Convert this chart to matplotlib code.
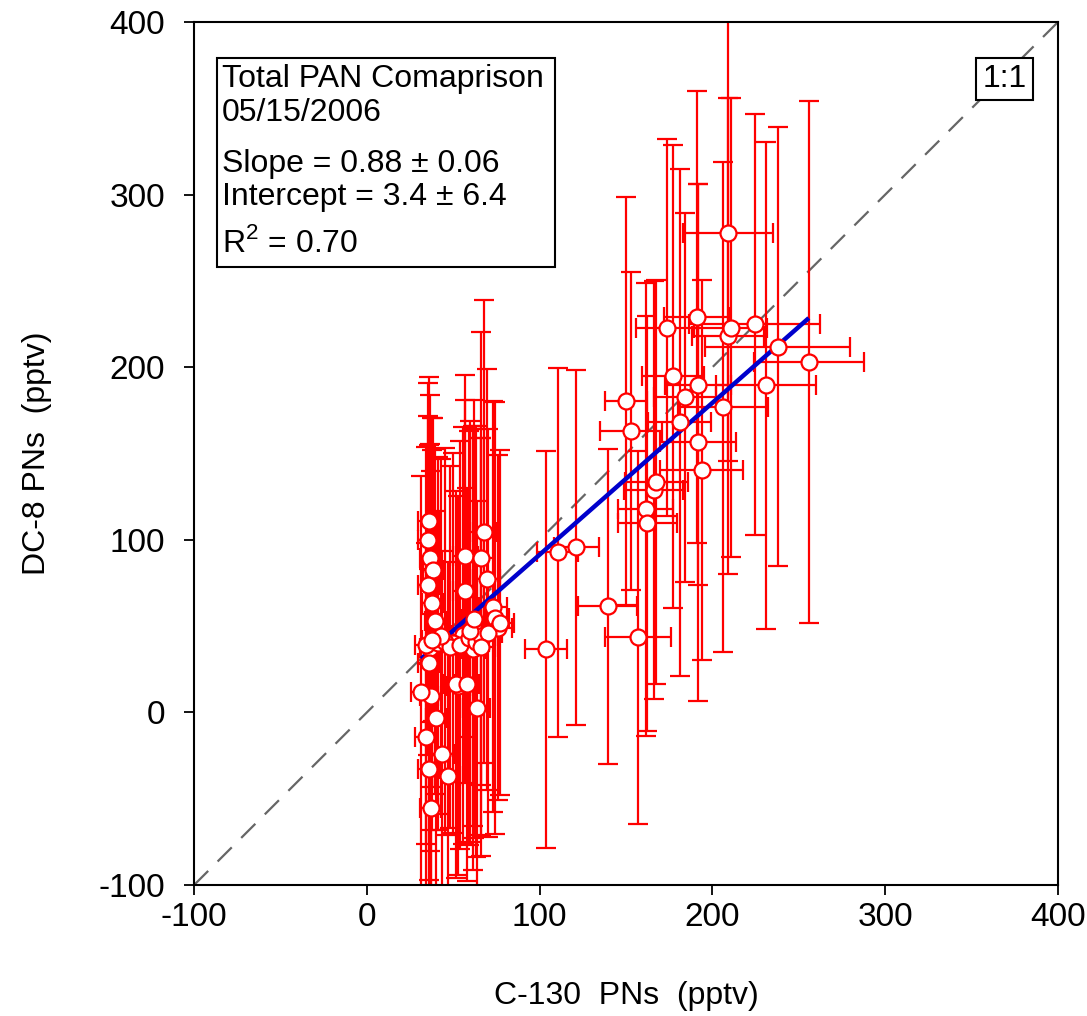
import matplotlib
matplotlib.use("Agg")
import matplotlib.pyplot as plt
from matplotlib.patches import Rectangle

plt.rcParams['font.family'] = ['Liberation Sans', 'DejaVu Sans']
plt.rcParams['axes.unicode_minus'] = False

# C-130 PNs (x), DC-8 PNs (y) with uncertainties (pptv)
c130 = [35.9, 35.5, 36.5, 38.4, 57.1, 35.5, 37.8, 56.7, 39.7, 67.6,
        65.8, 69.3, 73.0, 74.0, 76.0, 61.5, 55.7, 49.6, 36.5, 35.9,
        52.8, 37.0, 40.3, 34.0, 43.6, 35.9, 46.7, 37.0, 61.5, 51.9,
        57.7, 63.5, 41.0, 45.0, 48.0, 54.0, 59.0, 63.0, 66.0, 70.0,
        77.0, 43.0, 34.0, 38.0, 60.0, 66.0, 31.5, 62.0,
        103.6, 110.5, 121.3, 139.5, 156.8, 150.0, 153.0, 161.3, 162.4, 166.0,
        167.6, 173.6, 177.0, 181.0, 184.0, 191.0, 191.4, 191.5, 193.7, 206.0,
        209.0, 209.0, 210.5, 224.5, 231.0, 237.8, 255.8]
dc8 = [111.2, 99.7, 89.2, 82.8, 90.6, 73.6, 63.6, 70.3, 52.9, 104.7,
       89.2, 77.1, 61.2, 54.8, 49.0, 50.0, 44.6, 40.4, 37.5, 28.8,
       15.6, 9.8, -3.1, -14.0, -24.3, -33.0, -36.9, -55.2, 36.5, 16.2,
       16.2, 2.7, 40.0, 41.0, 38.0, 39.0, 43.0, 41.0, 44.0, 46.0,
       52.0, 44.0, 39.0, 42.0, 47.0, 38.0, 12.0, 54.0,
       36.5, 92.7, 95.6, 61.4, 43.5, 180.5, 163.0, 117.6, 109.5, 129.0,
       133.4, 223.0, 194.7, 168.0, 182.5, 229.0, 156.4, 190.0, 140.4, 177.0,
       277.5, 218.0, 223.0, 225.0, 189.5, 212.0, 203.0]
c130_err = [6, 6, 6, 6, 7, 6, 6, 7, 6, 8,
            8, 8, 8, 8, 8, 7, 7, 7, 6, 6,
            7, 6, 6, 6, 7, 6, 7, 6, 7, 7,
            7, 8, 6, 7, 7, 7, 7, 8, 8, 8,
            8, 7, 6, 6, 7, 8, 6, 7,
            12, 12, 13, 17, 19, 12, 18, 16, 17, 17,
            18, 18, 18, 18, 18, 19, 22, 19, 24, 26,
            26, 21, 21, 38, 29, 42, 32]
dc8_err = [83, 91, 95, 88, 105, 98, 107, 111, 100, 134,
           131, 122, 119, 125, 100, 116, 121, 110, 118, 126,
           110, 130, 120, 112, 118, 116, 124, 112, 128, 112,
           114, 120, 108, 112, 105, 118, 120, 125, 115, 118,
           100, 103, 115, 110, 122, 121, 125, 127,
           115, 107, 103, 91, 108, 118, 92, 131, 120, 121,
           117, 109, 134, 147, 107, 131, 150, 116, 110, 142,
           132, 138, 133, 122, 141, 127, 151]

slope = 0.88
intercept = 3.4

fig = plt.figure(figsize=(10.87, 10.16), dpi=100)
ax = fig.add_axes([0.1785, 0.1289, 0.7948, 0.8494])

# 1:1 line
ax.plot([-100, 400], [-100, 400], color='#666666', lw=1.6,
        dashes=(9, 6), zorder=1)

ax.errorbar(c130, dc8, xerr=c130_err, yerr=dc8_err, fmt='none',
            ecolor='#ff0000', elinewidth=1.6, capsize=7.5, capthick=1.6,
            zorder=2)

xmin, xmax = min(c130), max(c130)
ax.plot([xmin, xmax], [slope * xmin + intercept, slope * xmax + intercept],
        color='#0000cc', lw=3.2, zorder=3, solid_capstyle='butt')

ax.plot(c130, dc8, 'o', ms=11.5, mfc='white', mec='#ff0000', mew=1.6,
        zorder=4, linestyle='none')

ax.set_xlim(-100, 400)
ax.set_ylim(-100, 400)
ax.set_xticks([-100, 0, 100, 200, 300, 400])
ax.set_yticks([-100, 0, 100, 200, 300, 400])
ax.tick_params(axis='both', direction='out', length=7, width=1.3,
               labelsize=24, top=False, right=False)
ax.tick_params(axis='x', pad=5)
ax.tick_params(axis='y', pad=14)
for s in ax.spines.values():
    s.set_linewidth(1.5)

ax.set_xlabel('C-130  PNs  (pptv)', fontsize=23, labelpad=35)
ax.set_ylabel('DC-8 PNs  (pptv)', fontsize=23, labelpad=33)

# Annotation box
ax.add_patch(Rectangle((0.0266, 0.716), 0.3912, 0.2423, transform=ax.transAxes,
                       fill=False, edgecolor='black', lw=1.5, zorder=6))
lines = [('Total PAN Comaprison', 0.934),
         ('05/15/2006', 0.895),
         ('Slope = 0.88 ± 0.06', 0.836),
         ('Intercept = 3.4 ± 6.4', 0.797)]
for t, yy in lines:
    ax.text(0.0325, yy, t, transform=ax.transAxes, fontsize=23,
            va='center', ha='left', zorder=7)
ax.text(0.0325, 0.7445, r'R$^{\mathregular{2}}$ = 0.70', transform=ax.transAxes,
        fontsize=23, va='center', ha='left', zorder=7)

ax.text(0.938, 0.934, '1:1', transform=ax.transAxes, fontsize=23,
        va='center', ha='center', zorder=7,
        bbox=dict(boxstyle='square,pad=0.2', fc='white', ec='black', lw=1.5))

fig.savefig('out.png', dpi=100)
